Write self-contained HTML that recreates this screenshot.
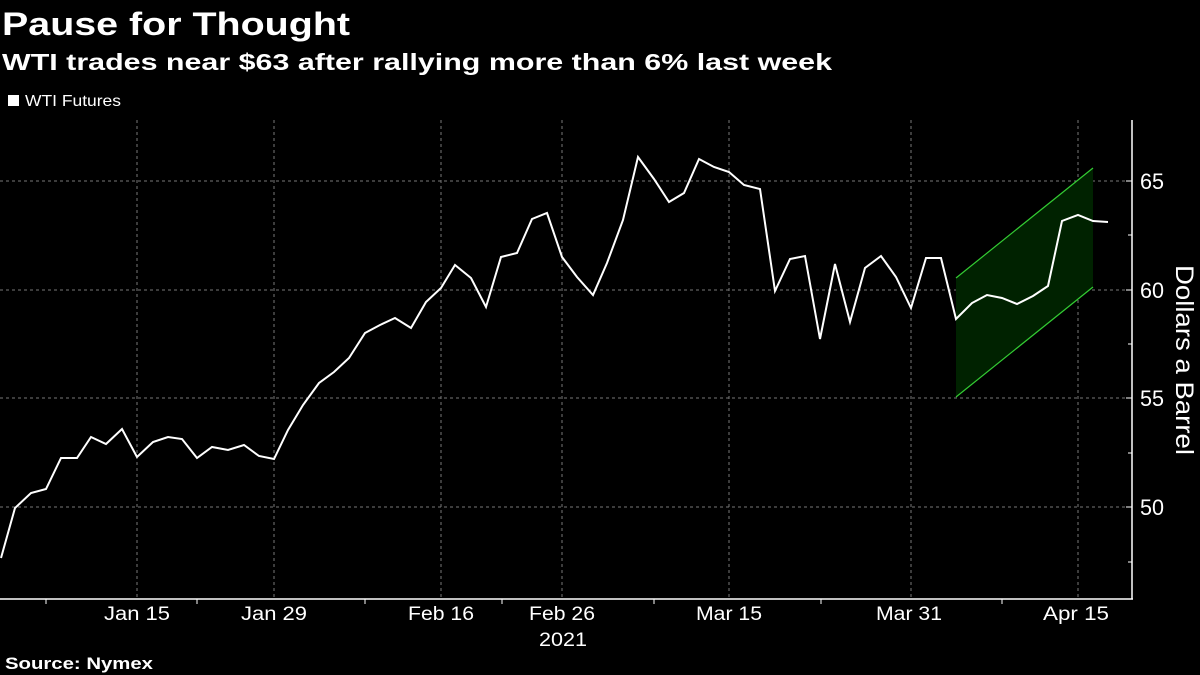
<!DOCTYPE html>
<html><head><meta charset="utf-8"><style>
html,body{margin:0;padding:0;background:#000;}
svg{display:block;}
text{font-family:"Liberation Sans",sans-serif;fill:#fff;}
</style></head><body>
<svg width="1200" height="675" viewBox="0 0 1200 675">
<rect width="1200" height="675" fill="#000"/>
<text x="2" y="35" font-size="32" font-weight="bold" textLength="348" lengthAdjust="spacingAndGlyphs">Pause for Thought</text>
<text x="2" y="70" font-size="23" font-weight="bold" textLength="830" lengthAdjust="spacingAndGlyphs">WTI trades near $63 after rallying more than 6% last week</text>
<rect x="8" y="95" width="11" height="11" fill="#fff"/>
<text x="25" y="106" font-size="16" textLength="96" lengthAdjust="spacingAndGlyphs">WTI Futures</text>
<g stroke="#777" stroke-width="1" stroke-dasharray="3,3">
<line x1="0" x2="1132" y1="181" y2="181"/><line x1="0" x2="1132" y1="290" y2="290"/>
<line x1="0" x2="1132" y1="398" y2="398"/><line x1="0" x2="1132" y1="507" y2="507"/>
<line x1="137" x2="137" y1="120" y2="599"/><line x1="274" x2="274" y1="120" y2="599"/>
<line x1="441" x2="441" y1="120" y2="599"/><line x1="562" x2="562" y1="120" y2="599"/>
<line x1="729" x2="729" y1="120" y2="599"/><line x1="911" x2="911" y1="120" y2="599"/>
<line x1="1078" x2="1078" y1="120" y2="599"/>
</g>
<polygon points="956,278 1093,168 1093,287 956,397" fill="#002200"/>
<g stroke="#33cc33" stroke-width="1.2"><line x1="956" y1="278" x2="1093" y2="168"/><line x1="956" y1="397" x2="1093" y2="287"/></g>
<polyline fill="none" stroke="#fff" stroke-width="2" stroke-linejoin="miter" points="1,558 15,508 31,493 46,489 61,458 77,458 91,437 106,444 122,429 137,457 153,442 168,437 182,439 197,458 212,447 228,450 244,445 259,456 274,459 288,430 303,405 319,383 334,372 349,358 365,333 380,325 395,318 411,328 426,302 441,288 455,265 471,278 486,307 501,257 517,253 532,219 547,213 562,257 577,277 593,295 607,263 623,220 638,157 654,179 669,202 684,193 699,159 714,167 729,172 744,185 760,189 775,291 790,259 805,256 820,339 835,264 850,322 865,268 881,256 896,277 911,308 926,258 941,258 956,319 972,303 987,295 1002,298 1017,304 1033,296 1048,286 1062,221 1078,215 1093,221 1108,222"/>
<g stroke="#fff" stroke-width="1.5">
<line x1="0" x2="1133" y1="599" y2="599"/><line x1="1132" x2="1132" y1="120" y2="599"/>
</g>
<g stroke="#fff" stroke-width="1">
<line x1="1126" x2="1132" y1="181" y2="181"/><line x1="1126" x2="1132" y1="290" y2="290"/><line x1="1126" x2="1132" y1="398" y2="398"/><line x1="1126" x2="1132" y1="507" y2="507"/>
<line x1="1128" x2="1132" y1="235" y2="235"/><line x1="1128" x2="1132" y1="344" y2="344"/><line x1="1128" x2="1132" y1="453" y2="453"/><line x1="1128" x2="1132" y1="562" y2="562"/>
<line x1="46" x2="46" y1="599" y2="604"/><line x1="197" x2="197" y1="599" y2="604"/><line x1="365" x2="365" y1="599" y2="604"/><line x1="502" x2="502" y1="599" y2="604"/><line x1="654" x2="654" y1="599" y2="604"/><line x1="821" x2="821" y1="599" y2="604"/><line x1="1002" x2="1002" y1="599" y2="604"/>
</g>
<g font-size="22">
<text x="1140" y="189" textLength="24" lengthAdjust="spacingAndGlyphs">65</text><text x="1140" y="298" textLength="24" lengthAdjust="spacingAndGlyphs">60</text><text x="1140" y="406" textLength="24" lengthAdjust="spacingAndGlyphs">55</text><text x="1140" y="515" textLength="24" lengthAdjust="spacingAndGlyphs">50</text>
</g>
<text transform="translate(1176,360) rotate(90)" font-size="25" text-anchor="middle" textLength="190" lengthAdjust="spacingAndGlyphs">Dollars a Barrel</text>
<g font-size="19" text-anchor="middle">
<text x="137" y="620" textLength="66" lengthAdjust="spacingAndGlyphs">Jan 15</text><text x="274" y="620" textLength="66" lengthAdjust="spacingAndGlyphs">Jan 29</text><text x="441" y="620" textLength="66" lengthAdjust="spacingAndGlyphs">Feb 16</text><text x="562" y="620" textLength="66" lengthAdjust="spacingAndGlyphs">Feb 26</text><text x="729" y="620" textLength="66" lengthAdjust="spacingAndGlyphs">Mar 15</text><text x="909" y="620" textLength="66" lengthAdjust="spacingAndGlyphs">Mar 31</text><text x="1076" y="620" textLength="66" lengthAdjust="spacingAndGlyphs">Apr 15</text>
<text x="563" y="646" textLength="48" lengthAdjust="spacingAndGlyphs">2021</text>
</g>
<text x="5" y="669" font-size="17" font-weight="bold" textLength="148" lengthAdjust="spacingAndGlyphs">Source: Nymex</text>
</svg>
</body></html>
